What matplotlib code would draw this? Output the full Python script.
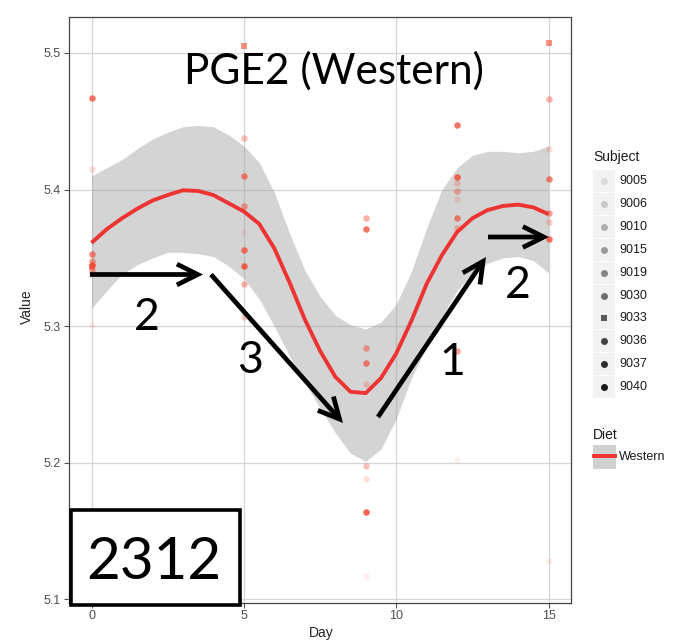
import numpy as np
import matplotlib
matplotlib.use("Agg")
import matplotlib.pyplot as plt
from matplotlib.patches import Rectangle, FancyArrowPatch, ArrowStyle
from matplotlib.lines import Line2D

# ---------------- data ----------------
days = [0, 5, 9, 12, 15]
subjects = ["9005", "9006", "9010", "9015", "9019", "9030", "9033", "9036", "9037", "9040"]
diet = ["Western"]
nan = float("nan")

# value of each subject (in the order of `subjects`) on each day
value_day0 = [5.301, 5.415, 5.339, 5.345, 5.341, 5.348, 5.343, 5.353, 5.467, 5.345]
value_day5 = [5.369, nan, 5.307, 5.438, 5.331, 5.388, 5.505, 5.410, 5.356, 5.344]
value_day9 = [5.117, 5.188, 5.258, 5.198, 5.379, 5.284, nan, 5.273, 5.371, 5.164]
value_day12 = [5.202, 5.393, 5.405, 5.372, 5.399, 5.282, nan, 5.379, 5.447, 5.409]
value_day15 = [5.128, 5.430, 5.376, nan, 5.466, 5.383, 5.507, 5.408, 5.364, nan]

# smoother (fit and confidence band)
smooth_day = [0.0, 0.5, 1.0, 1.5, 2.0, 2.5, 3.0, 3.5, 4.0, 4.5, 5.0, 5.5, 6.0, 6.5, 7.0, 7.5,
              8.0, 8.5, 9.0, 9.5, 10.0, 10.5, 11.0, 11.5, 12.0, 12.5, 13.0, 13.5, 14.0, 14.5, 15.0]
smooth_fit = [5.361, 5.371, 5.379, 5.386, 5.392, 5.396, 5.3995, 5.399, 5.396, 5.390, 5.384,
              5.375, 5.357, 5.332, 5.305, 5.282, 5.263, 5.252, 5.251, 5.262, 5.280, 5.304,
              5.331, 5.352, 5.369, 5.379, 5.385, 5.388, 5.389, 5.387, 5.382]
smooth_upper = [5.410, 5.416, 5.422, 5.430, 5.437, 5.442, 5.446, 5.447, 5.446, 5.440, 5.432,
                5.420, 5.398, 5.368, 5.341, 5.322, 5.308, 5.301, 5.298, 5.303, 5.316, 5.340,
                5.372, 5.400, 5.416, 5.425, 5.428, 5.428, 5.427, 5.428, 5.432]
smooth_lower = [5.313, 5.326, 5.338, 5.345, 5.350, 5.354, 5.354, 5.353, 5.351, 5.344, 5.335,
                5.320, 5.300, 5.278, 5.259, 5.240, 5.222, 5.207, 5.201, 5.210, 5.232, 5.262,
                5.285, 5.307, 5.326, 5.339, 5.346, 5.350, 5.351, 5.348, 5.339]

xticks = [0, 5, 10, 15]
xtick_labels = ["0", "5", "10", "15"]
yticks = [5.1, 5.2, 5.3, 5.4, 5.5]
ytick_labels = ["5.1", "5.2", "5.3", "5.4", "5.5"]

title_text = "PGE2 (Western)"
step_labels = ["2", "3", "1", "2"]
box_label = "2312"

# ---------------- figure ----------------
W, H = 680, 642
fig = plt.figure(figsize=(6.8, 6.42), dpi=100)


def fx(px):
    return px / W


def fy(py):
    return 1 - py / H


ax = fig.add_axes([fx(68.65), fy(602.8), (571.4 - 68.65) / W, (602.8 - 16.8) / H])

values = np.array([value_day0, value_day5, value_day9, value_day12, value_day15])
finite = values[np.isfinite(values)]
lo, hi = finite.min(), finite.max()
pad = 0.05 * (hi - lo)
ax.set_ylim(lo - pad, hi + pad)
xpad = 0.05 * (max(days) - min(days))
ax.set_xlim(min(days) - xpad, max(days) + xpad)

# grid / frame
ax.set_axisbelow(True)
ax.grid(True, color="#D6D6D6", lw=0.9)
for sp in ax.spines.values():
    sp.set_color("#444444")
    sp.set_linewidth(0.9)
ax.set_xticks(xticks)
ax.set_xticklabels(xtick_labels, family="Liberation Sans")
ax.set_yticks(yticks)
ax.set_yticklabels(ytick_labels, family="Liberation Sans")
ax.tick_params(length=3.5, width=0.8, color="#555555", labelcolor="#4D4D4D",
               labelsize=9, pad=2)

# ribbon + points + line
ax.fill_between(smooth_day, smooth_lower, smooth_upper, color="#999999", alpha=0.42,
                lw=0, zorder=2)
point_rgb = matplotlib.colors.to_rgb("#F04A32")
alphas = np.linspace(0.1, 1.0, len(subjects)) * 0.85
for i, subj in enumerate(subjects):
    marker = "s" if subj == "9033" else "o"
    size = 20 if marker == "s" else 22
    ax.scatter(days, values[:, i], s=size, marker=marker, color=point_rgb,
               alpha=alphas[i], linewidths=0, zorder=3)
line_color = "#EE3333"
ax.plot(smooth_day, smooth_fit, color=line_color, lw=2.8, zorder=4,
        solid_capstyle="butt", solid_joinstyle="round")

# axis titles
fig.text(fx(321), fy(637), "Day", ha="center", va="baseline", fontsize=10,
         color="#222222", family="Liberation Sans")
fig.text(fx(27), fy(307), "Value", ha="center", va="center", rotation=90,
         fontsize=10, color="#222222", family="Liberation Sans")

# ---------------- legend (drawn by hand, ggplot style) ----------------
fig.text(fx(593), fy(157), "Subject", ha="left", va="center", fontsize=10,
         color="#1A1A1A", family="Liberation Sans")
row0, step = 181, 22.9
for i, subj in enumerate(subjects):
    cy = row0 + step * i
    fig.patches.append(Rectangle((fx(593), fy(cy + 11)), 22 / W, 22 / H,
                                 transform=fig.transFigure, facecolor="#F2F2F2",
                                 edgecolor="none"))
    marker = "s" if subj == "9033" else "o"
    fig.lines.append(Line2D([fx(604)], [fy(cy)], transform=fig.transFigure,
                            marker=marker, markersize=5 if marker == "o" else 4.6,
                            color="black", alpha=alphas[i] / 0.85 * 0.9, markeredgewidth=0,
                            linestyle="none"))
    fig.text(fx(619), fy(cy), subj, ha="left", va="center", fontsize=9,
             color="#1A1A1A", family="Liberation Sans")

fig.text(fx(593), fy(435), "Diet", ha="left", va="center", fontsize=10,
         color="#1A1A1A", family="Liberation Sans")
for j, d in enumerate(diet):
    cy = 457 + step * j
    fig.patches.append(Rectangle((fx(593), fy(cy + 12)), 23 / W, 24 / H,
                                 transform=fig.transFigure, facecolor="#D0D0D0",
                                 edgecolor="none"))
    fig.lines.append(Line2D([fx(594), fx(615)], [fy(cy - 1), fy(cy - 1)],
                            transform=fig.transFigure, color=line_color, lw=2.8))
    fig.text(fx(619), fy(cy), d, ha="left", va="center", fontsize=9,
             color="#1A1A1A", family="Liberation Sans")

# ---------------- overlay annotations ----------------
ann_font = ["Lato", "DejaVu Sans"]
fig.text(fx(334), fy(84), title_text, ha="center", va="baseline", fontsize=30.5,
         color="black", family=ann_font)

arrows = [((90, 274.5), (203, 274.5)),
          ((211, 274.5), (343, 423)),
          ((378, 417), (486, 257)),
          ((488, 237), (549, 237))]
style = ArrowStyle("->", head_length=15, head_width=7.5)
for (x0, y0), (x1, y1) in arrows:
    fig.patches.append(FancyArrowPatch((fx(x0), fy(y0)), (fx(x1), fy(y1)),
                                       transform=fig.transFigure, arrowstyle=style,
                                       mutation_scale=1, lw=3.4, color="black",
                                       shrinkA=0, shrinkB=0, joinstyle="miter",
                                       capstyle="butt"))

label_pos = [(147, 330), (250, 373), (452, 375), (517.5, 298)]
for s, (x, y) in zip(step_labels, label_pos):
    fig.text(fx(x), fy(y), s, ha="center", va="baseline", fontsize=32,
             color="black", family=ann_font)

fig.patches.append(Rectangle((fx(70.5), fy(604.5)), (239.5 - 70.5) / W, (604.5 - 509.5) / H,
                             transform=fig.transFigure, facecolor="white",
                             edgecolor="black", lw=2.6, zorder=5))
fig.text(fx(153.5), fy(579), box_label, ha="center", va="baseline", fontsize=42,
         color="black", family=ann_font, zorder=6)

fig.savefig("out.png", dpi=100)
